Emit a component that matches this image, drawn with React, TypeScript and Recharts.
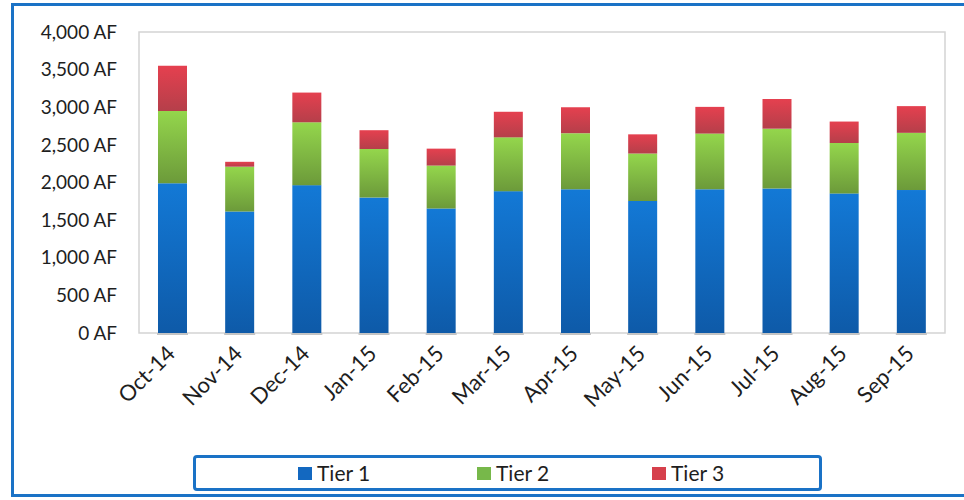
import React from "react";
import { BarChart, Bar, XAxis, YAxis, ReferenceArea } from "recharts";

const months = ["Oct-14", "Nov-14", "Dec-14", "Jan-15", "Feb-15", "Mar-15", "Apr-15", "May-15", "Jun-15", "Jul-15", "Aug-15", "Sep-15"];
const tier1 = [1990, 1615, 1965, 1800, 1655, 1885, 1910, 1755, 1910, 1920, 1855, 1900];
const tier2 = [960, 595, 835, 645, 570, 715, 745, 630, 740, 795, 670, 760];
const tier3 = [600, 65, 395, 250, 225, 340, 345, 255, 355, 395, 285, 355];
const yTicks = [0, 500, 1000, 1500, 2000, 2500, 3000, 3500, 4000];

const series = [
  { key: "tier1", name: "Tier 1", top: "#1379d6", bottom: "#0e5aa8", swatch: "#1368c0" },
  { key: "tier2", name: "Tier 2", top: "#94d64c", bottom: "#6c9a3a", swatch: "#77b84a" },
  { key: "tier3", name: "Tier 3", top: "#e5404f", bottom: "#b53f4a", swatch: "#d6404c" },
];

const data = months.map((m, i) => ({ month: m, tier1: tier1[i], tier2: tier2[i], tier3: tier3[i] }));

const FONT = "Lato, 'Open Sans', sans-serif";
const FRAME_BLUE = "#1a72c6";

const fmtAF = (v: number) => `${v.toLocaleString("en-US")} AF`;

function MonthTick({ x, y, payload }: any) {
  return (
    <text
      x={x + 4}
      y={y + 14}
      transform={`rotate(-45, ${x + 4}, ${y + 14})`}
      textAnchor="end"
      fontSize={22}
      fill="#1e1e1e"
      fontFamily={FONT}
    >
      {payload.value}
    </text>
  );
}

// bottom segment gets a thin grey base under it
function BaseBar(props: any) {
  const { x, y, width, height, fill } = props;
  return (
    <g>
      <rect x={x} y={y} width={width} height={height} fill={fill} />
      <rect x={x - 1} y={y + height} width={width + 2} height={2} fill="#c4c4c4" />
    </g>
  );
}

export default function App() {
  return (
    <div style={{ position: "absolute", left: 0, top: 0, width: 964, height: 500, overflow: "hidden", background: "#fff", fontFamily: FONT }}>
      <div
        style={{
          position: "absolute",
          left: 11,
          top: 3,
          width: 980,
          height: 494,
          border: `3px solid ${FRAME_BLUE}`,
          boxSizing: "border-box",
        }}
      />
      <div style={{ position: "absolute", left: 0, top: 0 }}>
        <BarChart
          width={964}
          height={500}
          data={data}
          margin={{ top: 32, right: 19, left: 0, bottom: 47 }}
          barSize={29}
        >
          <defs>
            {series.map((s) => (
              <linearGradient key={s.key} id={`grad-${s.key}`} x1="0" y1="0" x2="0" y2="1">
                <stop offset="0%" stopColor={s.top} />
                <stop offset="100%" stopColor={s.bottom} />
              </linearGradient>
            ))}
          </defs>
          <ReferenceArea y1={0} y2={4000} fill="none" stroke="#d4d4d4" strokeWidth={1.5} />
          <XAxis
            dataKey="month"
            axisLine={false}
            tickLine={false}
            interval={0}
            height={120}
            tick={<MonthTick />}
          />
          <YAxis
            width={139}
            domain={[0, 4000]}
            ticks={yTicks}
            tickFormatter={fmtAF}
            axisLine={false}
            tickLine={false}
            tickSize={0}
            tickMargin={22}
            tick={{ fontSize: 19, fill: "#1e1e1e", fontFamily: FONT }}
          />
          {series.map((s) => (
            <Bar
              key={s.key}
              dataKey={s.key}
              name={s.name}
              stackId="tiers"
              fill={`url(#grad-${s.key})`}
              shape={s.key === "tier1" ? <BaseBar /> : undefined}
              isAnimationActive={false}
            />
          ))}
        </BarChart>
      </div>
      <div
        style={{
          position: "absolute",
          left: 193,
          top: 455,
          width: 629,
          height: 36,
          border: `3px solid ${FRAME_BLUE}`,
          borderRadius: 4,
          boxSizing: "border-box",
        }}
      >
        {series.map((s, i) => (
          <div
            key={s.key}
            style={{
              position: "absolute",
              left: [102, 281, 456][i],
              top: 3,
              display: "flex",
              alignItems: "center",
              fontSize: 21,
              color: "#1e1e1e",
              lineHeight: "24px",
            }}
          >
            <span style={{ display: "inline-block", width: 14, height: 13, background: s.swatch, marginRight: 5 }} />
            {s.name}
          </div>
        ))}
      </div>
    </div>
  );
}
